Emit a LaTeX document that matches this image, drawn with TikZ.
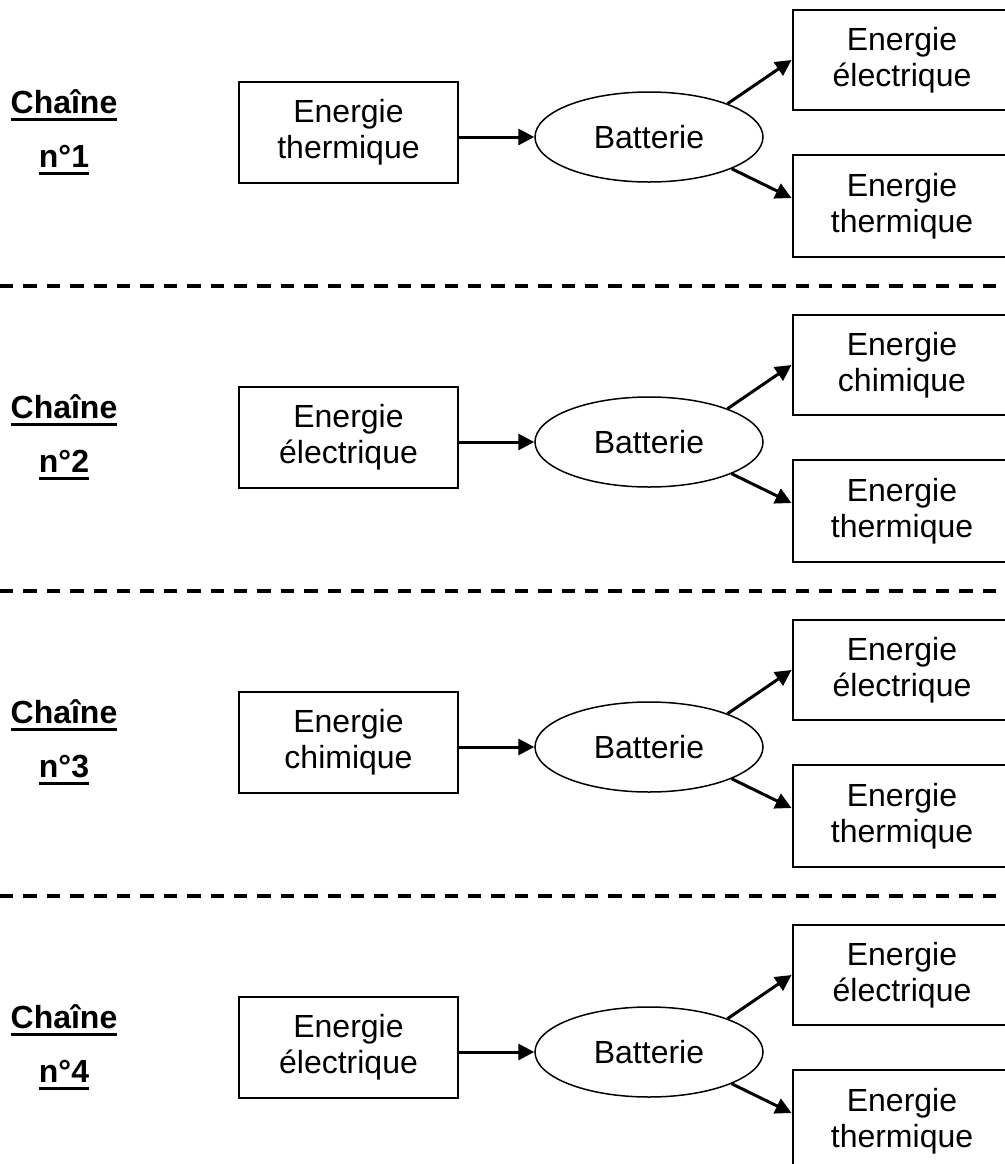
\documentclass[tikz,border=0pt]{standalone}
\usepackage{fontspec}
\setmainfont{Liberation Sans}
\usetikzlibrary{shapes.geometric,arrows.meta}

% bold label with thick underline
\newcommand{\chainlabel}[1]{\setbox0\hbox{\bfseries #1}\rlap{\rule[-3.75pt]{\wd0}{1.5pt}}\box0}

\tikzset{
  boite/.style={draw, line width=1pt, minimum width=109.5pt, minimum height=50.5pt,
    align=center, inner sep=0pt},
  pile/.style={draw, ellipse, line width=0.75pt, minimum width=114pt,
    minimum height=45pt, inner sep=0pt},
  fleche/.style={line width=1.5pt, -{Triangle[length=8pt,width=8pt]}},
  separation/.style={line width=1.6pt, dash pattern=on 6.7pt off 5pt},
}

\begin{document}
\begin{tikzpicture}[x=0.5pt, y=-0.5pt, font=\fontsize{16}{18.2}\selectfont]
  \clip (0,0) rectangle (1005,1164);

  \foreach \n/\src/\out in {
      1/thermique/électrique,
      2/électrique/chimique,
      3/chimique/électrique,
      4/électrique/électrique} {
    \begin{scope}[shift={(0,{305*(\n-1)})}]
      \node[anchor=base] (c\n) at (64,113) {\chainlabel{Chaîne}};
      \node[anchor=base] (k\n) at (64,167) {\chainlabel{n°\n}};

      \node[boite] (e\n) at (348.5,132.5) {Energie\\\src};
      \node[pile] (b\n) at (649,137) {Batterie};
      \node[boite, minimum height=50pt] (h\n) at (902,60) {Energie\\\out};
      \node[boite, minimum height=51pt] (t\n) at (902,206) {Energie\\thermique};

      \draw[fleche] (e\n.east |- b\n.west) -- (b\n.west);
      \draw[fleche] (b\n.23) -- (h\n.west);
      \draw[fleche] (b\n.-21) -- ([yshift=4pt]t\n.west);

      \ifnum\n<4
        \draw[separation] (0,286) -- (1005,286);
      \fi
    \end{scope}
  }
\end{tikzpicture}
\end{document}
